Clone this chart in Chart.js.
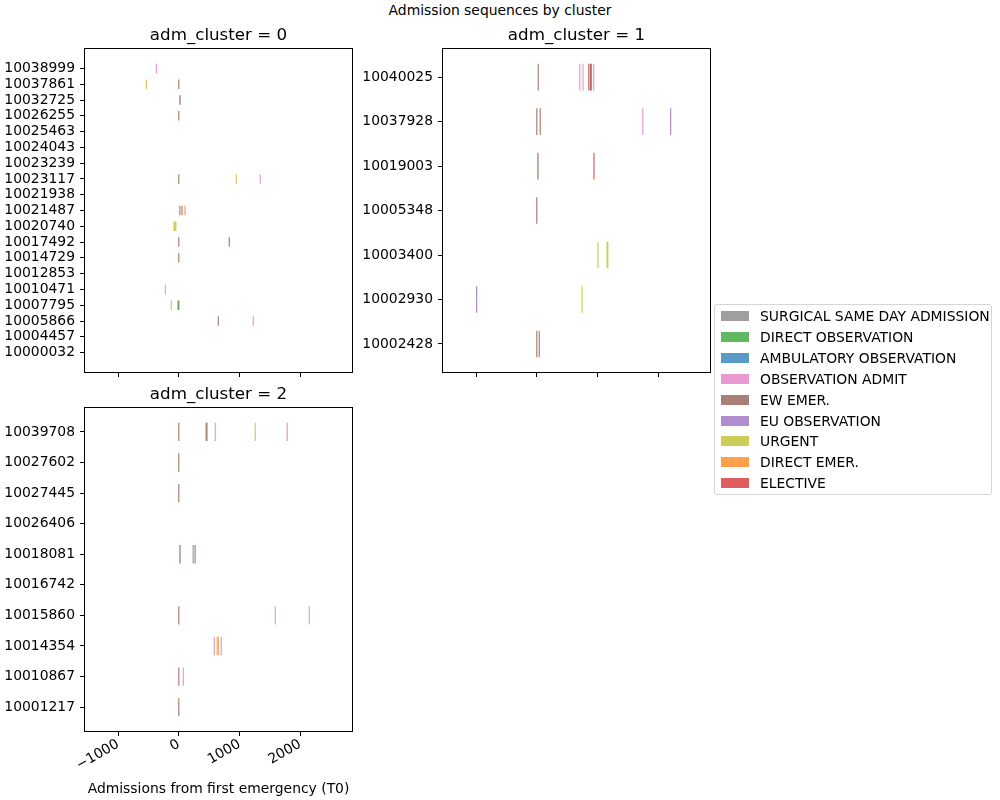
<!DOCTYPE html>
<html>
<head>
<meta charset="utf-8">
<title>Admission sequences by cluster</title>
<script src="https://cdn.jsdelivr.net/npm/chart.js@4.4.1/dist/chart.umd.min.js"></script>
<style>
  body { margin: 0; background: #fff; font-family: 'DejaVu Sans', sans-serif; }
  #fig { position: relative; width: 1000px; height: 800px; overflow: hidden; }
  #fig canvas { position: absolute; }
  #suptitle { position: absolute; left: 0; width: 1000px; top: 2px; text-align: center; font-size: 13.9px; line-height: 16px; color: #000; }
  #legend { position: absolute; left: 714px; top: 304px; width: 278px; height: 191px; border: 1px solid #d6d6d6; border-radius: 3px; background: rgba(255,255,255,0.8); box-sizing: border-box; }
  .leg-row { position: absolute; left: 0; height: 20px; }
  .leg-sw { position: absolute; left: 6px; top: 5px; width: 28px; height: 10px; }
  .leg-tx { position: absolute; left: 45px; top: 1px; font-size: 13.9px; line-height: 18px; white-space: nowrap; color: #000; }
</style>
</head>
<body>
<div id="fig">
  <div id="suptitle">Admission sequences by cluster</div>
  <canvas id="cluster0" width="358" height="380" style="left:0;top:0"></canvas>
  <canvas id="cluster1" width="360" height="380" style="left:358px;top:0"></canvas>
  <canvas id="cluster2" width="358" height="420" style="left:0;top:380px"></canvas>
  <div id="legend"></div>
</div>
<script>
var admissionTypes = ['SURGICAL SAME DAY ADMISSION', 'DIRECT OBSERVATION', 'AMBULATORY OBSERVATION',
    'OBSERVATION ADMIT', 'EW EMER.', 'EU OBSERVATION', 'URGENT', 'DIRECT EMER.', 'ELECTIVE'];
var typeColors = ['#7f7f7f', '#2ca02c', '#1f77b4', '#e377c2', '#8c564b', '#9467bd', '#bcbd22', '#ff7f0e', '#d62728'];

var xTicks = [-1000, 0, 1000, 2000];
var xLimits = [-1545, 2853];

// patients listed bottom row first
var cluster0Patients = ['10000032', '10004457', '10005866', '10007795', '10010471', '10012853', '10014729',
    '10017492', '10020740', '10021487', '10021938', '10023117', '10023239', '10024043', '10025463',
    '10026255', '10032725', '10037861', '10038999'];
var cluster1Patients = ['10002428', '10002930', '10003400', '10005348', '10019003', '10037928', '10040025'];
var cluster2Patients = ['10001217', '10010867', '10014354', '10015860', '10016742', '10018081', '10026406',
    '10027445', '10027602', '10039708'];

// [patient, admission type, start day, end day]
var cluster0Stays = [
    ['10038999', 'OBSERVATION ADMIT', -364, -359],
    ['10037861', 'URGENT', -529, -524],
    ['10037861', 'EW EMER.', 0, 6],
    ['10032725', 'EW EMER.', 0, 31],
    ['10026255', 'EW EMER.', 0, 5],
    ['10023117', 'EW EMER.', 0, 7],
    ['10023117', 'URGENT', 937, 942],
    ['10023117', 'OBSERVATION ADMIT', 1332, 1336],
    ['10021487', 'EW EMER.', 0, 28],
    ['10021487', 'EW EMER.', 44, 50],
    ['10021487', 'DIRECT EMER.', 93, 98],
    ['10020740', 'URGENT', -88, -38],
    ['10017492', 'EW EMER.', 0, 6],
    ['10017492', 'EW EMER.', 822, 828],
    ['10014729', 'EW EMER.', 0, 4],
    ['10010471', 'OBSERVATION ADMIT', -216, -212],
    ['10007795', 'URGENT', -117, -113],
    ['10007795', 'DIRECT OBSERVATION', -17, -2],
    ['10007795', 'EW EMER.', 0, 5],
    ['10005866', 'EW EMER.', 641, 646],
    ['10005866', 'OBSERVATION ADMIT', 1217, 1221]
];
var cluster1Stays = [
    ['10040025', 'EW EMER.', 14, 20],
    ['10040025', 'OBSERVATION ADMIT', 698, 703],
    ['10040025', 'OBSERVATION ADMIT', 752, 757],
    ['10040025', 'EW EMER.', 846, 852],
    ['10040025', 'ELECTIVE', 872, 880],
    ['10040025', 'EW EMER.', 888, 894],
    ['10040025', 'OBSERVATION ADMIT', 928, 933],
    ['10037928', 'EW EMER.', 0, 6],
    ['10037928', 'EW EMER.', 47, 53],
    ['10037928', 'OBSERVATION ADMIT', 1736, 1741],
    ['10037928', 'EU OBSERVATION', 2195, 2200],
    ['10019003', 'EW EMER.', 0, 30],
    ['10019003', 'ELECTIVE', 932, 937],
    ['10005348', 'EW EMER.', 0, 5],
    ['10003400', 'URGENT', 998, 1003],
    ['10003400', 'URGENT', 1148, 1180],
    ['10002930', 'EU OBSERVATION', -986, -981],
    ['10002930', 'URGENT', 736, 741],
    ['10002428', 'EW EMER.', 0, 5],
    ['10002428', 'EW EMER.', 31, 36]
];
var cluster2Stays = [
    ['10039708', 'EW EMER.', 0, 5],
    ['10039708', 'EW EMER.', 442, 473],
    ['10039708', 'OBSERVATION ADMIT', 591, 596],
    ['10039708', 'URGENT', 1250, 1255],
    ['10039708', 'OBSERVATION ADMIT', 1777, 1782],
    ['10027602', 'EW EMER.', 0, 5],
    ['10027445', 'EW EMER.', 0, 5],
    ['10018081', 'EW EMER.', 0, 30],
    ['10018081', 'SURGICAL SAME DAY ADMISSION', 227, 232],
    ['10018081', 'EW EMER.', 259, 264],
    ['10015860', 'EW EMER.', 0, 5],
    ['10015860', 'OBSERVATION ADMIT', 1580, 1585],
    ['10015860', 'OBSERVATION ADMIT', 2140, 2145],
    ['10014354', 'OBSERVATION ADMIT', 575, 580],
    ['10014354', 'URGENT', 622, 640],
    ['10014354', 'DIRECT EMER.', 640, 655],
    ['10014354', 'OBSERVATION ADMIT', 690, 695],
    ['10010867', 'EW EMER.', 0, 5],
    ['10010867', 'OBSERVATION ADMIT', 64, 69],
    ['10001217', 'EW EMER.', 0, 5]
];

var tickFont = { family: 'DejaVu Sans', size: 13.9 };
var titleFont = { family: 'DejaVu Sans', size: 16.7, weight: 'normal' };

function withAlpha(hex, a) {
    var r = parseInt(hex.slice(1, 3), 16), g = parseInt(hex.slice(3, 5), 16), b = parseInt(hex.slice(5, 7), 16);
    return 'rgba(' + r + ',' + g + ',' + b + ',' + a + ')';
}

// box around the plot area, like matplotlib spines
var framePlugin = {
    id: 'frame',
    afterDraw: function(chart) {
        var a = chart.chartArea, ctx = chart.ctx;
        ctx.save();
        ctx.strokeStyle = '#000';
        ctx.lineWidth = 1;
        ctx.strokeRect(Math.round(a.left) - 0.5, Math.round(a.top) - 0.5,
            Math.round(a.right) - Math.round(a.left) + 1, Math.round(a.bottom) - Math.round(a.top) + 1);
        ctx.restore();
    }
};

function buildDatasets(patients, stays) {
    return admissionTypes.map(function(type, k) {
        return {
            label: type,
            data: stays.filter(function(s) { return s[1] === type; }).map(function(s) {
                return { x: [s[2], s[3]], y: patients.indexOf(s[0]) };
            }),
            backgroundColor: withAlpha(typeColors[k], 0.75),
            borderWidth: 0,
            grouped: false,
            categoryPercentage: 1,
            barPercentage: 0.6,
            minBarLength: 1.2
        };
    });
}

function makeCluster(canvasId, title, patients, stays, cfg) {
    var n = patients.length;
    var pad = 0.3 + 0.05 * (n - 1 + 0.6);
    var ctx = document.getElementById(canvasId).getContext('2d');
    return new Chart(ctx, {
        type: 'bar',
        data: { datasets: buildDatasets(patients, stays) },
        plugins: [framePlugin],
        options: {
            indexAxis: 'y',
            responsive: false,
            animation: false,
            events: [],
            layout: { padding: { left: 0, top: 0, right: cfg.padRight, bottom: 0 } },
            plugins: {
                legend: { display: false },
                tooltip: { enabled: false },
                title: {
                    display: true,
                    fullSize: false,
                    text: title,
                    color: '#000',
                    font: titleFont,
                    padding: { top: cfg.titleTop, bottom: 3 }
                }
            },
            scales: {
                x: {
                    type: 'linear',
                    min: xLimits[0],
                    max: xLimits[1],
                    offset: false,
                    afterBuildTicks: function(s) { s.ticks = xTicks.map(function(v) { return { value: v }; }); },
                    afterFit: function(s) {
                        s.height = cfg.xHeight;
                        s.paddingLeft = 0; s.paddingRight = 0;
                    },
                    ticks: {
                        display: cfg.xLabels,
                        color: '#000',
                        font: tickFont,
                        minRotation: 30,
                        maxRotation: 30,
                        padding: 0,
                        autoSkip: false,
                        callback: function(v) { return String(v).replace('-', '\u2212'); }
                    },
                    grid: { drawOnChartArea: false, offset: false, tickLength: 5, tickColor: '#000', tickWidth: 1 },
                    border: { display: false },
                    title: {
                        display: cfg.xLabels,
                        text: 'Admissions from first emergency (T0)',
                        color: '#000',
                        font: tickFont,
                        padding: { top: 0, bottom: 2 }
                    }
                },
                y: {
                    type: 'linear',
                    min: -pad,
                    max: n - 1 + pad,
                    offset: false,
                    afterBuildTicks: function(s) { s.ticks = patients.map(function(p, i) { return { value: i }; }); },
                    afterFit: function(s) {
                        s.width = 85;
                        s.paddingTop = 0; s.paddingBottom = 0;
                    },
                    ticks: {
                        color: '#000',
                        font: tickFont,
                        padding: 5,
                        autoSkip: false,
                        callback: function(v) { return patients[v]; }
                    },
                    grid: { drawOnChartArea: false, offset: false, tickLength: 5, tickColor: '#000', tickWidth: 1 },
                    border: { display: false }
                }
            }
        }
    });
}

function buildLegend() {
    var box = document.getElementById('legend');
    admissionTypes.forEach(function(type, k) {
        var row = document.createElement('div');
        row.className = 'leg-row';
        row.style.top = (1 + k * 20.9) + 'px';
        var sw = document.createElement('div');
        sw.className = 'leg-sw';
        sw.style.background = withAlpha(typeColors[k], 0.75);
        var tx = document.createElement('div');
        tx.className = 'leg-tx';
        tx.textContent = type;
        row.appendChild(sw);
        row.appendChild(tx);
        box.appendChild(row);
    });
}

function initCharts() {
    makeCluster('cluster0', 'adm_cluster = 0', cluster0Patients, cluster0Stays,
        { padRight: 6, titleTop: 26, xHeight: 8, xLabels: false });
    makeCluster('cluster1', 'adm_cluster = 1', cluster1Patients, cluster1Stays,
        { padRight: 8, titleTop: 26, xHeight: 8, xLabels: false });
    makeCluster('cluster2', 'adm_cluster = 2', cluster2Patients, cluster2Stays,
        { padRight: 6, titleTop: 5, xHeight: 69, xLabels: true });
    buildLegend();
}

document.addEventListener('DOMContentLoaded', initCharts);
</script>
</body>
</html>
